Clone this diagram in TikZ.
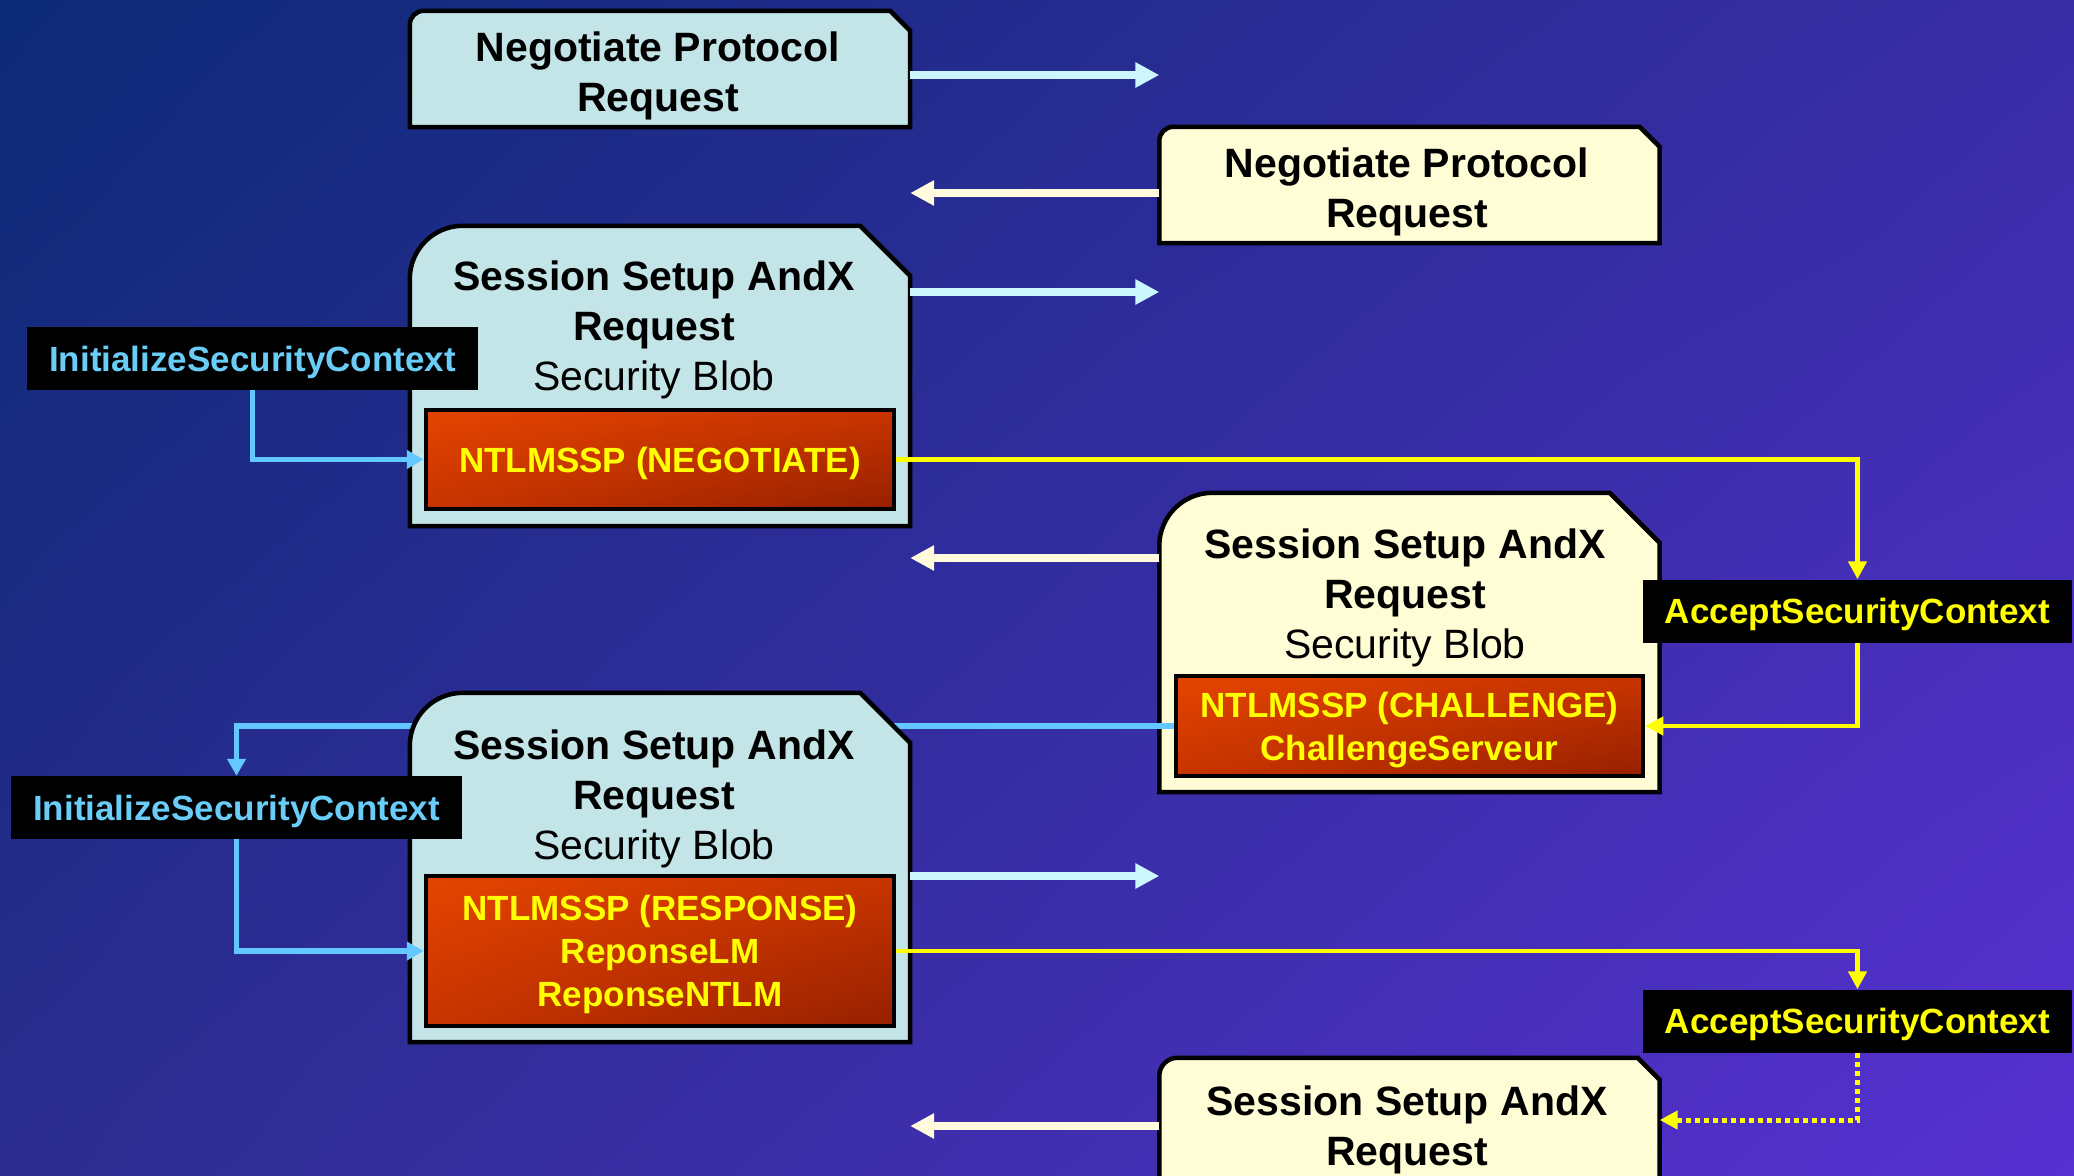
\documentclass[tikz,border=0pt]{standalone}
\usepackage{fontspec}
\usepackage{tikz,graphics}
\usetikzlibrary{arrows.meta,shadings}
\setmainfont{Liberation Sans}

\definecolor{bgtl}{HTML}{0C2A76}
\definecolor{bgtr}{HTML}{3A2DA6}
\definecolor{bgbl}{HTML}{2B2C8E}
\definecolor{bgbr}{HTML}{5731D2}
\definecolor{clientfill}{HTML}{C4E5E8}
\definecolor{serverfill}{HTML}{FFFDD6}
\definecolor{toserverc}{HTML}{CCF6FC}
\definecolor{toclientc}{HTML}{FFFBDC}
\definecolor{initblue}{HTML}{62C8FF}
\definecolor{isctext}{HTML}{6ACDF8}
\definecolor{accyellow}{HTML}{FFFF00}
\definecolor{ntlmtl}{HTML}{E44400}
\definecolor{ntlmmid}{HTML}{C83400}
\definecolor{ntlmbr}{HTML}{962000}

\pgfdeclarelayer{top}
\pgfsetlayers{main,top}

\begin{document}
\begin{tikzpicture}[x=1pt, y=-1pt,
    msg/.style={minimum width=500pt, inner sep=0pt},
    client/.style={fill=clientfill, draw=black, line width=4.5pt},
    server/.style={fill=serverfill, draw=black, line width=4.5pt},
    head/.style={align=center, text depth=0pt, font=\fontsize{41pt}{50pt}\selectfont},
    ntlm/.style={shade, upper left=ntlmtl, upper right=ntlmmid, lower left=ntlmmid, lower right=ntlmbr,
      draw=black, line width=4.5pt, inner sep=0pt, minimum width=468pt, align=center, text depth=0pt,
      text=accyellow, font=\fontsize{35pt}{43pt}\selectfont\bfseries},
    ctx/.style={fill=black, minimum height=63pt, inner xsep=22pt, inner ysep=0pt, text depth=0pt,
      font=\fontsize{35pt}{42pt}\selectfont\bfseries},
    toserver/.style={draw=toserverc, line width=8pt, -{Triangle[length=24pt, width=24pt]}},
    toclient/.style={draw=toclientc, line width=8pt, -{Triangle[length=24pt, width=24pt]}},
    initline/.style={draw=initblue, line width=5.5pt, -{Triangle[length=17pt, width=18pt]}},
    acceptline/.style={draw=accyellow, line width=4.5pt, -{Triangle[length=18pt, width=18pt]}}]

    \shade [upper left=bgtl, upper right=bgtr, lower left=bgbl, lower right=bgbr] (0, 0) rectangle (2074, 1175);
    \useasboundingbox (0, 0) rectangle (2074, 1175);

    % negotiate protocol
    \node [msg, minimum height=116pt] (negc) at (660, 69) {};
    \filldraw [client] (negc.south west) -- ([yshift=-14pt]negc.north west) arc [start angle=180, end angle=90, radius=14pt]
      -- ([xshift=-20pt]negc.north east) -- ([yshift=-20pt]negc.north east) -- (negc.south east) -- cycle;
    \node [head] (negctxt) at (658, 72) {\textbf{Negotiate Protocol}\\\textbf{Request}};

    \node [msg, minimum height=116pt] (negs) at (1409.5, 185) {};
    \filldraw [server] (negs.south west) -- ([yshift=-14pt]negs.north west) arc [start angle=180, end angle=90, radius=14pt]
      -- ([xshift=-20pt]negs.north east) -- ([yshift=-20pt]negs.north east) -- (negs.south east) -- cycle;
    \node [head] (negstxt) at (1407, 188) {\textbf{Negotiate Protocol}\\\textbf{Request}};

    \draw [toserver] (negc.east |- 0, 75) -- (negs.west |- 0, 75);
    \draw [toclient] (negs.west |- 0, 193) -- (negc.east |- 0, 193);

    % first session setup
    \node [msg, minimum height=300pt] (sessc1) at (660, 376) {};
    \filldraw [client] (sessc1.south west) -- ([yshift=-53pt]sessc1.north west) arc [start angle=180, end angle=90, radius=53pt]
      -- ([xshift=-50pt]sessc1.north east) -- ([yshift=-50pt]sessc1.north east) -- (sessc1.south east) -- cycle;
    \node [head] (sessc1txt) at (654, 326) {\textbf{Session Setup AndX}\\\textbf{Request}\\Security Blob};
    \node [ntlm, minimum height=99pt] (ntlmneg) at (660, 459.5) {NTLMSSP (NEGOTIATE)};
    \node [ctx, text=isctext] (isc1) at (252.5, 358.5) {InitializeSecurityContext};
    \draw [toserver] (sessc1.east |- 0, 292) -- (negs.west |- 0, 292);
    \draw [initline] (isc1) |- (ntlmneg);

    \node [msg, minimum height=299pt] (sesss1) at (1409.5, 642.5) {};
    \filldraw [server] (sesss1.south west) -- ([yshift=-53pt]sesss1.north west) arc [start angle=180, end angle=90, radius=53pt]
      -- ([xshift=-50pt]sesss1.north east) -- ([yshift=-50pt]sesss1.north east) -- (sesss1.south east) -- cycle;
    \node [head] (sesss1txt) at (1405, 594) {\textbf{Session Setup AndX}\\\textbf{Request}\\Security Blob};
    \node [ntlm, minimum width=467pt, minimum height=100pt] (ntlmchal) at (1409.5, 726) {NTLMSSP (CHALLENGE)\\ChallengeServeur};
    \node [ctx, text=accyellow] (asc1) at (1857.5, 611) {AcceptSecurityContext};
    \draw [toclient] (sesss1.west |- 0, 558) -- (sessc1.east |- 0, 558);
    \draw [acceptline] (ntlmneg) -| (asc1);
    \draw [acceptline] (asc1) |- (ntlmchal);

    \begin{pgfonlayer}{top}
      \node [ctx, text=isctext] (isc2) at (236.5, 807.5) {InitializeSecurityContext};
    \end{pgfonlayer}
    \draw [initline] (ntlmchal) -| (isc2);

    % second session setup
    \node [msg, minimum height=349pt] (sessc2) at (660, 867.5) {};
    \filldraw [client] (sessc2.south west) -- ([yshift=-53pt]sessc2.north west) arc [start angle=180, end angle=90, radius=53pt]
      -- ([xshift=-50pt]sessc2.north east) -- ([yshift=-50pt]sessc2.north east) -- (sessc2.south east) -- cycle;
    \node [head] (sessc2txt) at (654, 795) {\textbf{Session Setup AndX}\\\textbf{Request}\\Security Blob};
    \node [ntlm, minimum height=150pt] (ntlmresp) at (660, 951) {NTLMSSP (RESPONSE)\\ReponseLM\\ReponseNTLM};
    \node [ctx, text=accyellow] (asc2) at (1857.5, 1021) {AcceptSecurityContext};
    \draw [initline] (isc2) |- (ntlmresp);
    \draw [acceptline] (ntlmresp) -| (asc2);

    \node [msg, minimum height=124pt] (sesss2) at (1409.5, 1120) {};
    \filldraw [server] (sesss2.south west) -- ([yshift=-18pt]sesss2.north west) arc [start angle=180, end angle=90, radius=18pt]
      -- ([xshift=-22pt]sesss2.north east) -- ([yshift=-22pt]sesss2.north east) -- (sesss2.south east) -- cycle;
    \node [head] (sesss2txt) at (1407, 1126) {\textbf{Session Setup AndX}\\\textbf{Request}};
    \draw [toserver] (sessc2.east |- 0, 876) -- (sesss2.west |- 0, 876);
    \draw [toclient] (sesss2.west |- 0, 1126) -- (sessc2.east |- 0, 1126);
    \draw [acceptline, line width=5pt, dash pattern=on 5pt off 4pt] (asc2) |- (sesss2);
  \end{tikzpicture}
\end{document}
